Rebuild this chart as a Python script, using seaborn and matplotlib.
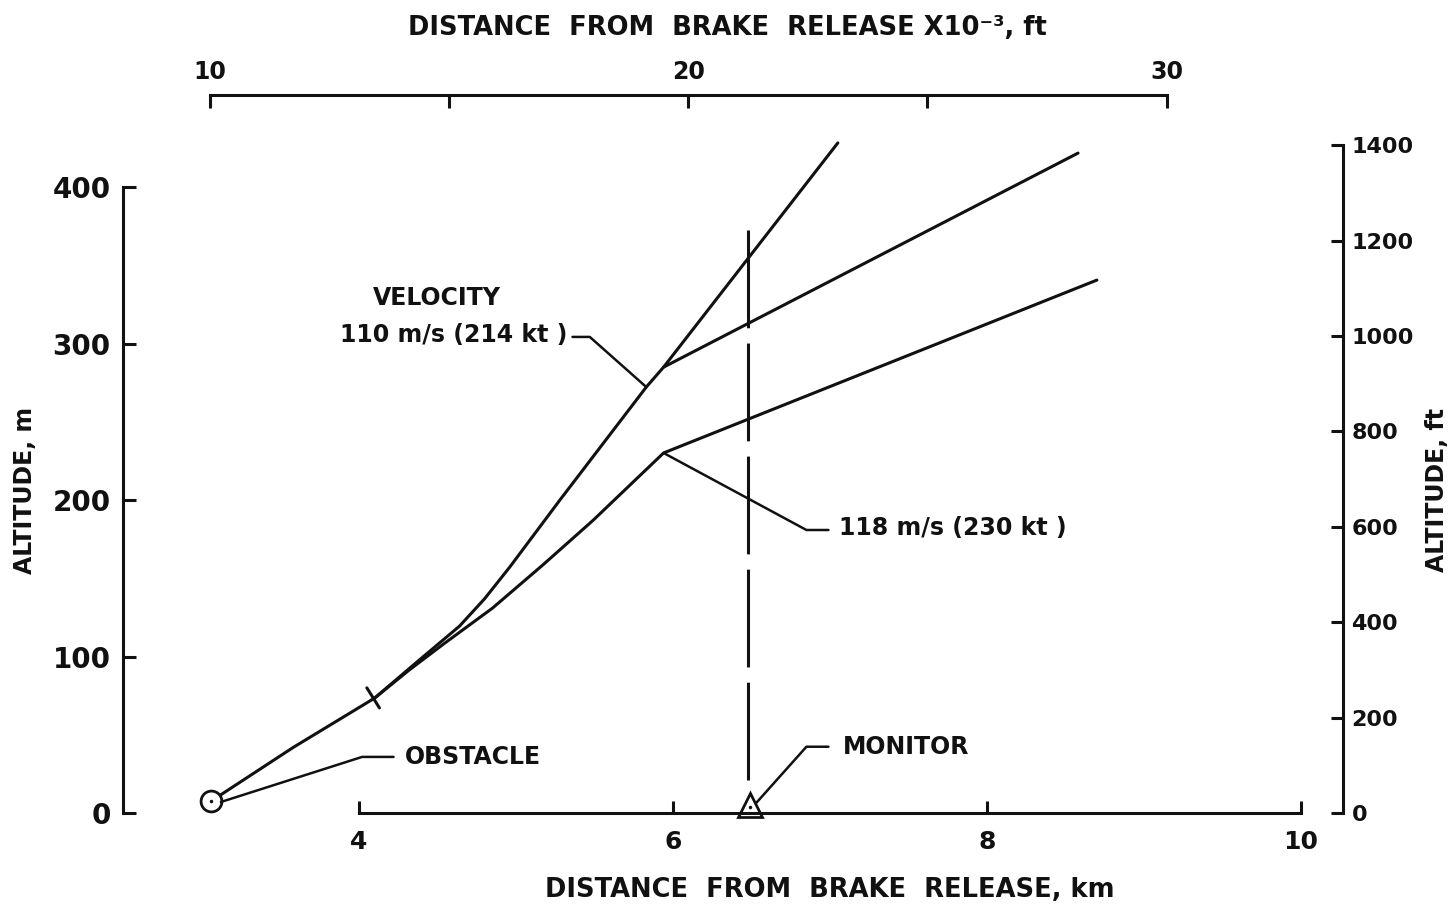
"""Take-off climb profiles: altitude vs distance from brake release (km / ft)."""

import numpy as np
import pandas as pd
import matplotlib
matplotlib.use("Agg")
import matplotlib.pyplot as plt
import seaborn as sns

# ── Data (km / m) ─────────────────────────────────────────
path_110_km = [3.06, 3.58, 4.10, 4.35, 4.64, 4.80, 4.96, 5.28, 5.83, 5.94, 7.05]
path_110_m = [7.9, 42.0, 73.6, 95.0, 119.5, 137.0, 157.2, 200.1, 272.2, 284.9, 428.1]
cutback_110_km = [5.94, 8.58]
cutback_110_m = [284.9, 421.6]
path_118_km = [4.10, 4.32, 4.54, 4.85, 5.17, 5.49, 5.94, 8.70]
path_118_m = [73.6, 91.5, 108.2, 131.0, 158.5, 187.0, 230.1, 340.5]

obstacle = (3.06, 7.9)
monitor = (6.49, 5.3)
monitor_line_km = 6.48
monitor_line_m = [372.5, 21.0]

km_ticks = [4, 6, 8, 10]
m_ticks = [0, 100, 200, 300, 400]
kft_ticks = [10, 15, 20, 25, 30]
kft_labels = ["10", "", "20", "", "30"]
ft_ticks = [0, 200, 400, 600, 800, 1000, 1200, 1400]

KM_LIM = (2.497, 10.268)
M_LIM = (0, 458.7)
FT = 0.3048

# ── Style ─────────────────────────────────────────────────
sns.set_theme(style="white")
plt.rcParams["font.family"] = ["DejaVu Sans"]
plt.rcParams["font.weight"] = "bold"
INK = "#111111"
LW = 2.2

df = pd.concat([
    pd.DataFrame({"km": path_110_km, "m": path_110_m, "path": "110"}),
    pd.DataFrame({"km": cutback_110_km, "m": cutback_110_m, "path": "110 cutback"}),
    pd.DataFrame({"km": path_118_km, "m": path_118_m, "path": "118"}),
])

fig = plt.figure(figsize=(14.51, 9.09), dpi=100)
ax = fig.add_axes([0.0848, 0.1053, 0.8408, 0.7902])

sns.lineplot(data=df, x="km", y="m", units="path", estimator=None, sort=False,
             color=INK, lw=LW, ax=ax)

# monitor sight line (dashed)
ax.plot([monitor_line_km, monitor_line_km], monitor_line_m, color=INK, lw=LW,
        linestyle=(0, (32, 5)))

# obstacle and monitor symbols
ax.plot(*obstacle, marker="o", ms=15, mfc="white", mec=INK, mew=2, clip_on=False)
ax.plot(*obstacle, marker=".", ms=3, color=INK)
ax.plot(*monitor, marker="^", ms=17, mfc="white", mec=INK, mew=2, clip_on=False)
ax.plot(monitor[0], monitor[1] - 1, marker=".", ms=3, color=INK)

# small cross-tick where the two paths part
ax.plot([4.05, 4.13], [80.1, 67.3], color=INK, lw=LW)

# ── Leaders and labels ────────────────────────────────────
ann = dict(color=INK, fontsize=17, fontweight="bold", va="center")
ax.plot([3.12, 4.02, 4.22], [7.2, 36.0, 36.0], color=INK, lw=1.8)
ax.text(4.29, 36.0, "OBSTACLE", ha="left", **ann)

ax.plot([5.83, 5.47, 5.36], [272.2, 304.2, 304.2], color=INK, lw=1.8)
ax.text(4.09, 329.0, "VELOCITY", ha="left", **ann)
ax.text(5.33, 305.5, "110 m/s (214 kt )", ha="right", **ann)

ax.plot([5.94, 6.85, 6.99], [230.1, 180.9, 180.9], color=INK, lw=1.8)
ax.text(7.06, 182.2, "118 m/s (230 kt )", ha="left", **ann)

ax.plot([6.53, 6.85, 6.99], [6.6, 42.5, 42.5], color=INK, lw=1.8)
ax.text(7.08, 42.5, "MONITOR", ha="left", **ann)

# ── Axes: km / m (bottom, left) ───────────────────────────
ax.set_xlim(*KM_LIM)
ax.set_ylim(*M_LIM)
ax.set_xticks(km_ticks)
ax.set_yticks(m_ticks)
ax.grid(False)

ax_top = ax.twiny()
ax_top.set_xlim(KM_LIM[0] / FT, KM_LIM[1] / FT)
ax_top.set_xticks(kft_ticks, kft_labels)

ax_right = ax.twinx()
ax_right.set_ylim(M_LIM[0] / FT, M_LIM[1] / FT)
ax_right.set_yticks(ft_ticks)

for a in (ax, ax_top, ax_right):
    for s in a.spines.values():
        s.set_visible(False)
        s.set_linewidth(LW)
        s.set_color(INK)
    a.grid(False)

ax.spines["left"].set_visible(True)
ax.spines["left"].set_bounds(0, 400)
ax.spines["bottom"].set_visible(True)
ax.spines["bottom"].set_bounds(4, 10)
ax_top.spines["top"].set_visible(True)
ax_top.spines["top"].set_bounds(10, 30)
ax_right.spines["right"].set_visible(True)
ax_right.spines["right"].set_bounds(0, 1400)

tick_kw = dict(direction="in", length=9, width=LW, color=INK, labelcolor=INK)
ax.tick_params(axis="y", left=True, labelsize=20, pad=9, **tick_kw)
ax.tick_params(axis="x", bottom=True, labelsize=18, pad=12, **tick_kw)
ax_top.tick_params(axis="x", top=True, labelsize=17, pad=8, **tick_kw)
ax_right.tick_params(axis="y", right=True, labelsize=16, pad=6, **tick_kw)

ax.set_xlabel("DISTANCE  FROM  BRAKE  RELEASE, km", fontsize=18.5,
              fontweight="bold", color=INK)
ax.xaxis.label.set_verticalalignment("center")
ax.xaxis.set_label_coords(0.579, -0.107)

ax_top.set_xlabel("DISTANCE  FROM  BRAKE  RELEASE X10\u207b\u00b3, ft", fontsize=18.5,
                  fontweight="bold", color=INK)
ax_top.xaxis.label.set_verticalalignment("center")
ax_top.xaxis.set_label_coords(0.495, 1.093)

ax.set_ylabel("ALTITUDE, m", fontsize=17, fontweight="bold", color=INK)
ax.yaxis.label.set_verticalalignment("center")
ax.yaxis.set_label_coords(-0.080, 0.45)

ax_right.set_ylabel("ALTITUDE, ft", fontsize=17, fontweight="bold", color=INK)
ax_right.yaxis.label.set_verticalalignment("center")
ax_right.yaxis.set_label_coords(1.077, 0.45)

fig.savefig("out.png", dpi=100, facecolor="white")
